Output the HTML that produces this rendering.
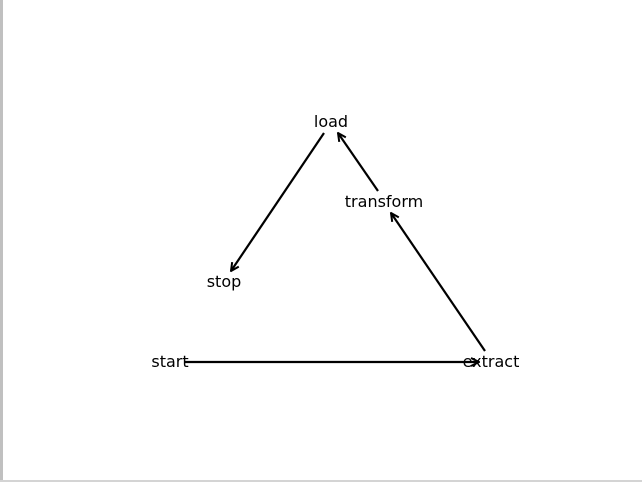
<!DOCTYPE html>
<html><head><style>
html,body{margin:0;padding:0;background:#fff;}
svg{display:block;}
text{font-family:"DejaVu Sans","Liberation Sans",sans-serif;font-size:16px;fill:#000;}
</style></head><body>
<svg width="642" height="482" viewBox="0 0 642 482">
<rect x="0" y="0" width="642" height="482" fill="#fff"/>
<rect x="0" y="0" width="3" height="482" fill="#c0c0c0"/>
<rect x="0" y="480" width="642" height="2" fill="#d4d4d4"/>
<defs>
<marker id="a" markerWidth="10" markerHeight="10" refX="9" refY="5" orient="auto" markerUnits="userSpaceOnUse">
<polyline points="1,1 9,5 1,9" fill="none" stroke="#000" stroke-width="2"/>
</marker>
</defs>
<g stroke="#000" stroke-width="2.2" fill="none" marker-end="url(#a)">
<line x1="184" y1="362" x2="479" y2="362"/>
<line x1="485" y1="351" x2="391" y2="213"/>
<line x1="378" y1="191" x2="338" y2="133"/>
<line x1="324" y1="133" x2="231" y2="271"/>
</g>
<g text-anchor="middle">
<text x="331" y="127">load</text>
<text x="384" y="207">transform</text>
<text x="224" y="287">stop</text>
<text x="170" y="367">start</text>
<text x="491" y="367">extract</text>
</g>
</svg>
</body></html>
